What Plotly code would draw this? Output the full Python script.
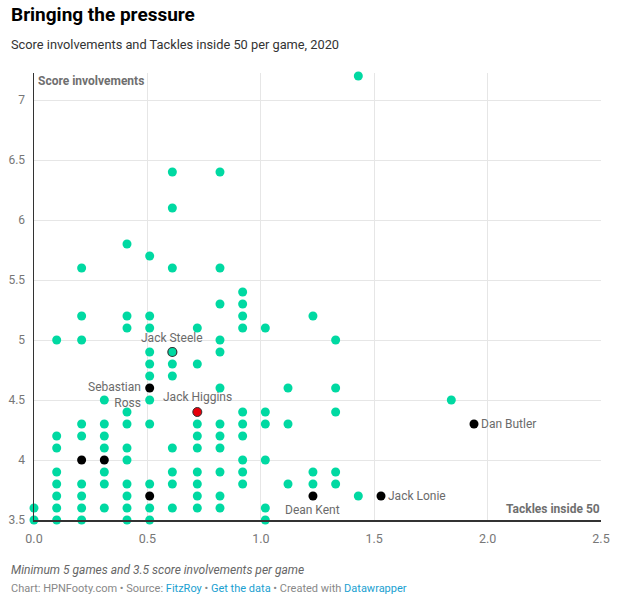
import plotly.graph_objects as go

# ---- data ----
tackles_i50 = [
    1.43,
    0.61, 0.82,
    0.61,
    0.41,
    0.51,
    0.21, 0.61, 0.82,
    0.92,
    0.82, 0.92,
    0.21, 0.41, 0.51, 0.92, 1.23,
    0.41, 0.51, 0.72, 0.92, 1.02,
    0.10, 0.21, 0.82, 1.33,
    0.51, 0.82,
    0.51, 0.61, 0.72,
    0.51, 0.61,
    0.82, 1.12, 1.33,
    0.31, 0.51, 1.84,
    0.41, 0.92, 1.02, 1.33,
    0.21, 0.31, 0.41, 0.51, 0.72, 0.82, 0.92, 1.02, 1.12,
    0.10, 0.21, 0.31, 0.72, 0.82, 0.92,
    0.10, 0.31, 0.41, 0.61, 0.72, 0.82,
    0.41, 0.92, 1.02,
    0.10, 0.31, 0.61, 0.72, 0.82, 0.92, 1.23, 1.33,
    0.10, 0.21, 0.31, 0.41, 0.51, 0.61, 0.72, 0.92, 1.12, 1.23, 1.33,
    0.10, 0.21, 0.41, 0.72, 0.82, 1.43,
    0.00, 0.10, 0.21, 0.31, 0.41, 0.51, 0.61, 0.72, 0.82, 1.02,
    0.00, 0.10, 0.21, 0.41, 0.51, 1.02,
]
score_inv = [
    7.2,
    6.4, 6.4,
    6.1,
    5.8,
    5.7,
    5.6, 5.6, 5.6,
    5.4,
    5.3, 5.3,
    5.2, 5.2, 5.2, 5.2, 5.2,
    5.1, 5.1, 5.1, 5.1, 5.1,
    5.0, 5.0, 5.0, 5.0,
    4.9, 4.9,
    4.8, 4.8, 4.8,
    4.7, 4.7,
    4.6, 4.6, 4.6,
    4.5, 4.5, 4.5,
    4.4, 4.4, 4.4, 4.4,
    4.3, 4.3, 4.3, 4.3, 4.3, 4.3, 4.3, 4.3, 4.3,
    4.2, 4.2, 4.2, 4.2, 4.2, 4.2,
    4.1, 4.1, 4.1, 4.1, 4.1, 4.1,
    4.0, 4.0, 4.0,
    3.9, 3.9, 3.9, 3.9, 3.9, 3.9, 3.9, 3.9,
    3.8, 3.8, 3.8, 3.8, 3.8, 3.8, 3.8, 3.8, 3.8, 3.8, 3.8,
    3.7, 3.7, 3.7, 3.7, 3.7, 3.7,
    3.6, 3.6, 3.6, 3.6, 3.6, 3.6, 3.6, 3.6, 3.6, 3.6,
    3.5, 3.5, 3.5, 3.5, 3.5, 3.5,
]

# highlighted players
hl_names = ["Jack Steele", "Sebastian<br>Ross", "Jack Higgins", "Dan Butler", "Dean Kent", "Jack Lonie", "", "", ""]
hl_x = [0.61, 0.51, 0.72, 1.94, 1.23, 1.53, 0.21, 0.31, 0.51]
hl_y = [4.9, 4.6, 4.4, 4.3, 3.7, 3.7, 4.0, 4.0, 3.7]
hl_kind = ["outline", "black", "red", "black", "black", "black", "black", "black", "black"]

x_ticks = [0.0, 0.5, 1.0, 1.5, 2.0, 2.5]
y_ticks = [3.5, 4, 4.5, 5, 5.5, 6, 6.5, 7]

GREEN = "#00d9a2"
FONT = "Roboto"

# page body margin is removed (post_script), so figure = window
W, H = 620, 603
PL, PR, PT, PB = 34, 601, 73, 520          # plot area in page pixels
L, R, T, B = PL, W - PR, PT, H - PB


def px(xp):
    return (xp - PL) / (PR - PL)


def py(yp):
    return (PB - yp) / (PB - PT)


fig = go.Figure()

fig.add_trace(go.Scatter(
    x=tackles_i50, y=score_inv, mode="markers",
    marker=dict(size=9, color=GREEN, line=dict(width=0)),
    cliponaxis=False, hoverinfo="skip", showlegend=False,
))

colors = {"outline": GREEN, "black": "#000000", "red": "#e8000b"}
lines = {"outline": dict(width=1.2, color="#333333"),
         "black": dict(width=0), "red": dict(width=1, color="#333333")}
for xv, yv, k in zip(hl_x, hl_y, hl_kind):
    fig.add_trace(go.Scatter(
        x=[xv], y=[yv], mode="markers",
        marker=dict(size=9, color=colors[k], line=lines[k]),
        cliponaxis=False, hoverinfo="skip", showlegend=False,
    ))

lab_font = dict(family=FONT, size=12, color="#6b6b6b")
# label placements: (xshift, yshift, xanchor)
placements = {
    "Jack Steele": (0, 14, "center"),
    "Sebastian<br>Ross": (-7, -7, "right"),
    "Jack Higgins": (0, 15, "center"),
    "Dan Butler": (5, 0, "left"),
    "Dean Kent": (0, -14, "center"),
    "Jack Lonie": (5, 0, "left"),
}
for name, xv, yv in zip(hl_names, hl_x, hl_y):
    if not name:
        continue
    xs, ys, xa = placements[name]
    fig.add_annotation(x=xv, y=yv, text=name, showarrow=False, xshift=xs, yshift=ys,
                       xanchor=xa, yanchor="middle", align="right", font=lab_font)

# axis titles
fig.add_annotation(xref="paper", yref="paper", x=px(36), y=py(80.5), text="<b>Score involvements</b>",
                   showarrow=False, xanchor="left", yanchor="middle",
                   font=dict(family=FONT, size=12, color="#6f6f6f"))
fig.add_annotation(xref="paper", yref="paper", x=px(602), y=py(508.5), text="<b>Tackles inside 50</b>",
                   showarrow=False, xanchor="right", yanchor="middle",
                   font=dict(family=FONT, size=12, color="#6f6f6f"))

# title / subtitle / notes
fig.add_annotation(xref="paper", yref="paper", x=px(9), y=py(14.5), text="<b>Bringing the pressure</b>",
                   showarrow=False, xanchor="left", yanchor="middle",
                   font=dict(family=FONT, size=19, color="#000000"))
fig.add_annotation(xref="paper", yref="paper", x=px(9), y=py(45), text="Score involvements and Tackles inside 50 per game, 2020",
                   showarrow=False, xanchor="left", yanchor="middle",
                   font=dict(family=FONT, size=12.8, color="#333333"))
fig.add_annotation(xref="paper", yref="paper", x=px(9), y=py(570), text="<i>Minimum 5 games and 3.5 score involvements per game</i>",
                   showarrow=False, xanchor="left", yanchor="middle",
                   font=dict(family=FONT, size=12, color="#666666"))
LINK = "#1a9fd1"
fig.add_annotation(xref="paper", yref="paper", x=px(9), y=py(588),
                   text=("Chart: HPNFooty.com • Source: <span style='color:%s'>FitzRoy</span> • "
                         "<span style='color:%s'>Get the data</span> • Created with "
                         "<span style='color:%s'>Datawrapper</span>") % (LINK, LINK, LINK),
                   showarrow=False, xanchor="left", yanchor="middle",
                   font=dict(family=FONT, size=11, color="#888888"))

fig.update_layout(
    width=W, height=H,
    margin=dict(l=L, r=R, t=T, b=B, pad=0),
    paper_bgcolor="white", plot_bgcolor="white",
    font=dict(family=FONT),
    hovermode=False,
    xaxis=dict(range=[0, 2.5], tickvals=x_ticks, tickformat=".1f", automargin=False,
               showgrid=True, gridcolor="#e6e6e6", gridwidth=1,
               zeroline=False, showline=True, linecolor="#333333", linewidth=1.5,
               ticks="", ticklabelstandoff=6, ticklabeloverflow="allow",
               tickfont=dict(family=FONT, size=12.5, color="#777777")),
    yaxis=dict(range=[3.5, 7.225], tickvals=y_ticks, automargin=False,
               showgrid=True, gridcolor="#e6e6e6", gridwidth=1,
               zeroline=False, showline=True, linecolor="#333333", linewidth=1.5,
               ticks="", ticklabelstandoff=5, ticklabeloverflow="allow",
               tickfont=dict(family=FONT, size=12, color="#777777")),
)

fig.write_html("out.html",
               config={"displayModeBar": False, "staticPlot": True},
               post_script="document.body.style.margin='0';document.body.style.overflow='hidden';")
